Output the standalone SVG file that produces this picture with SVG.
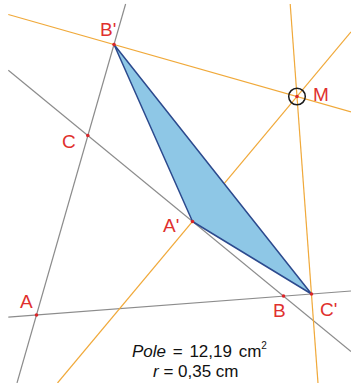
<svg xmlns="http://www.w3.org/2000/svg" width="351" height="383" viewBox="0 0 351 383">
<style>
.gray{stroke:#8c8c8c;stroke-width:1.2;fill:none}
.orange{stroke:#f0a93a;stroke-width:1.2;fill:none}
.tri{fill:#8ec7e6;stroke:#2c4a8e;stroke-width:1.5;stroke-linejoin:round}
.pt{fill:#d9262a}
.lbl{font-family:"Liberation Sans",Arial,sans-serif;font-size:19px;fill:#e0302e}
.info{font-family:"Liberation Sans",Arial,sans-serif;font-size:17px;fill:#111}
</style>
<rect width="351" height="383" fill="#ffffff"/>
<g id="connectors">
<line class="gray" x1="125.6" y1="4" x2="17" y2="383"/>
<line class="gray" x1="8.3" y1="70.2" x2="351" y2="351.6"/>
<line class="gray" x1="8.3" y1="317.2" x2="351" y2="291"/>
<line class="orange" x1="8.3" y1="14.5" x2="351" y2="111.8"/>
<line class="orange" x1="290.2" y1="4" x2="318" y2="383"/>
<line class="orange" x1="351" y1="31.9" x2="57.5" y2="383"/>
</g>
<g id="triangle">
<polygon class="tri" points="114,44.5 192.5,221.5 311.5,294"/>
</g>
<g id="node-Bp"><circle class="pt" cx="114" cy="44.5" r="1.8"/><text class="lbl" x="100" y="36">B'</text></g>
<g id="node-C"><circle class="pt" cx="87.8" cy="135.5" r="1.8"/><text class="lbl" x="62" y="148">C</text></g>
<g id="node-A"><circle class="pt" cx="36.5" cy="315" r="1.8"/><text class="lbl" x="20" y="308">A</text></g>
<g id="node-Ap"><circle class="pt" cx="192.5" cy="221.5" r="1.8"/><text class="lbl" x="163" y="232">A'</text></g>
<g id="node-B"><circle class="pt" cx="283.5" cy="296" r="1.8"/><text class="lbl" x="273" y="317">B</text></g>
<g id="node-Cp"><circle class="pt" cx="311.5" cy="294" r="1.8"/><text class="lbl" x="320" y="316">C'</text></g>
<g id="node-M"><circle cx="297" cy="96.5" r="8.3" fill="none" stroke="#1a1a1a" stroke-width="1.5"/><circle class="pt" cx="297" cy="96.5" r="1.8"/><text class="lbl" x="313" y="101">M</text></g>
<g id="info">
<text class="info" x="132" y="357" word-spacing="2"><tspan font-style="italic">Pole</tspan> = 12,19 cm<tspan font-size="10" dy="-8">2</tspan></text>
<text class="info" x="153" y="377"><tspan font-style="italic">r</tspan> = 0,35 cm</text>
</g>
</svg>
